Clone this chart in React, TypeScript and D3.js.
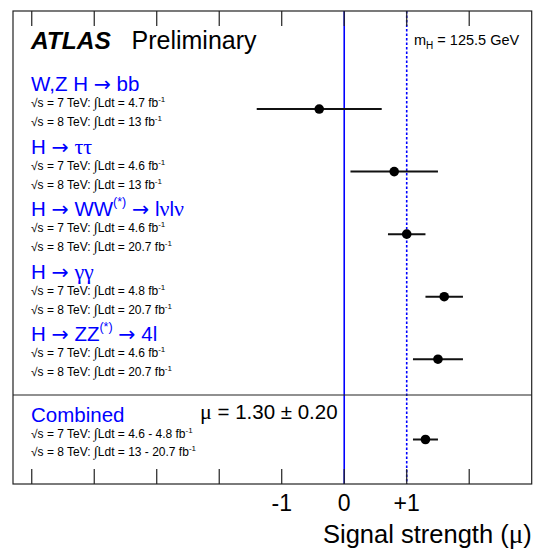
import React from "react";
import * as d3 from "d3";

// Channel results (signal strength mu with symmetric uncertainty)
const channels = ["W,Z H → bb", "H → ττ", "H → WW^{(*)} → lνlν", "H → γγ", "H → ZZ^{(*)} → 4l"];
const muValues = [-0.4, 0.8, 1.0, 1.6, 1.5];
const muErrors = [1.0, 0.7, 0.3, 0.3, 0.4];
const lumi7 = ["4.7", "4.6", "4.6", "4.8", "4.6"];
const lumi8 = ["13", "13", "20.7", "20.7", "20.7"];

const combinedLabel = "Combined";
const combinedMu = 1.3;
const combinedErr = 0.2;
const combinedLumi7 = "4.6 - 4.8";
const combinedLumi8 = "13 - 20.7";

const xTicks = [-5, -4, -3, -2, -1, 0, 1, 2];
const xTickLabels: Record<number, string> = { [-1]: "-1", 0: "0", 1: "+1" };
const xDomain: [number, number] = [-5.3, 3.0];

const W = 538;
const H = 550;
const frame = { left: 13, right: 531.7, top: 11, bottom: 484 };
const divider = 395;
const FONT = "'Liberation Sans', Arial, Helvetica, sans-serif";
const SERIF = "'Liberation Serif', 'Times New Roman', serif";
const ARROW_FONT = "'DejaVu Sans', sans-serif";
const BLUE = "#0000ff";

type Run = { t: string; sup: boolean; font?: string };

// Split "text^{sup}text" into plain/superscript runs, giving arrows and
// Greek letters their own typefaces
function parseRuns(s: string): Run[] {
  const out: Run[] = [];
  const re = /\^\{([^}]*)\}/g;
  let last = 0;
  let m: RegExpExecArray | null;
  const pushPlain = (txt: string) => {
    const parts = txt.split(/(→|[α-ω]+)/);
    parts.forEach((p) => {
      if (!p) return;
      if (p === "→") out.push({ t: p, sup: false, font: ARROW_FONT });
      else if (/^[α-ω]+$/.test(p)) out.push({ t: p, sup: false, font: SERIF });
      else out.push({ t: p, sup: false });
    });
  };
  while ((m = re.exec(s))) {
    if (m.index > last) pushPlain(s.slice(last, m.index));
    out.push({ t: m[1], sup: true });
    last = m.index + m[0].length;
  }
  if (last < s.length) pushPlain(s.slice(last));
  return out;
}

function Heading({ x, y, text }: { x: number; y: number; text: string }) {
  const runs = parseRuns(text);
  return (
    <text x={x} y={y} fontFamily={FONT} fontSize={20.5} fill={BLUE}>
      {runs.map((r, i) => {
        if (r.sup)
          return (
            <tspan key={i} fontSize={12.5} dy={-10}>
              {r.t}
            </tspan>
          );
        const dy = i > 0 && runs[i - 1].sup ? 10 : 0;
        return (
          <tspan key={i} dy={dy} fontFamily={r.font} fontSize={r.font === SERIF ? 22 : undefined}>
            {r.t}
          </tspan>
        );
      })}
    </text>
  );
}

function LumiLine({ x, y, energy, lumi }: { x: number; y: number; energy: string; lumi: string }) {
  return (
    <text x={x} y={y} fontFamily={FONT} fontSize={12} fill="#000">
      {`√s = ${energy} TeV: `}
      <tspan fontFamily={SERIF} fontSize={14}>
        ∫
      </tspan>
      {`Ldt = ${lumi} fb`}
      <tspan fontSize={8} dy={-5}>
        -1
      </tspan>
    </text>
  );
}

export default function App() {
  const x = d3.scaleLinear().domain(xDomain).range([frame.left, frame.right]);
  const y = d3.scaleBand<string>().domain(channels).range([77.75, 390.5]).padding(0);
  const rowY = (c: string) => (y(c) as number) + y.bandwidth() / 2;
  const combinedY = (divider + frame.bottom) / 2;
  const labelX = 31;
  const tickLen = 15;

  const rows = channels.map((c, i) => ({
    label: c,
    mu: muValues[i],
    err: muErrors[i],
    l7: lumi7[i],
    l8: lumi8[i],
    cy: rowY(c),
  }));

  return (
    <div style={{ position: "absolute", left: 0, top: 0 }}>
      <svg width={W} height={H} style={{ display: "block", background: "#fff" }}>
        {/* reference lines at mu = 0 and mu = 1 */}
        <line x1={x(0)} x2={x(0)} y1={frame.top} y2={frame.bottom} stroke={BLUE} strokeWidth={1.6} />
        <line
          x1={x(1)}
          x2={x(1)}
          y1={frame.top}
          y2={frame.bottom}
          stroke={BLUE}
          strokeWidth={1.6}
          strokeDasharray="2.5,2"
        />

        {/* frame */}
        <rect
          x={frame.left}
          y={frame.top}
          width={frame.right - frame.left}
          height={frame.bottom - frame.top}
          fill="none"
          stroke="#222"
          strokeWidth={1.2}
        />
        <line x1={frame.left} x2={frame.right} y1={divider} y2={divider} stroke="#222" strokeWidth={1.2} />

        {/* ticks on top and bottom edges */}
        {xTicks.map((t) => (
          <g key={t}>
            <line x1={x(t)} x2={x(t)} y1={frame.top} y2={frame.top + tickLen} stroke="#222" strokeWidth={1.2} />
            <line
              x1={x(t)}
              x2={x(t)}
              y1={frame.bottom}
              y2={frame.bottom - tickLen}
              stroke="#222"
              strokeWidth={1.2}
            />
            {xTickLabels[t] !== undefined && (
              <text x={x(t)} y={511} textAnchor="middle" fontFamily={FONT} fontSize={23} fill="#000">
                {xTickLabels[t]}
              </text>
            )}
          </g>
        ))}

        <text x={frame.right} y={543} textAnchor="end" fontFamily={FONT} fontSize={25.5} fill="#000">
          Signal strength (<tspan fontFamily={SERIF} fontSize={27}>μ</tspan>)
        </text>

        {/* title */}
        <text x={31} y={49} fontFamily={FONT} fontSize={24.5} fontWeight="bold" fontStyle="italic" fill="#000">
          ATLAS
        </text>
        <text x={131.5} y={49} fontFamily={FONT} fontSize={25} fill="#000">
          Preliminary
        </text>
        <text x={414} y={45} fontFamily={FONT} fontSize={14.5} fill="#000">
          m
          <tspan fontSize={10} dy={4}>
            H
          </tspan>
          <tspan dy={-4}> = 125.5 GeV</tspan>
        </text>

        {/* channel rows */}
        {rows.map((r) => (
          <g key={r.label}>
            <Heading x={labelX} y={r.cy - 18} text={r.label} />
            <LumiLine x={labelX} y={r.cy - 2} energy="7" lumi={r.l7} />
            <LumiLine x={labelX} y={r.cy + 17} energy="8" lumi={r.l8} />
            <line x1={x(r.mu - r.err)} x2={x(r.mu + r.err)} y1={r.cy} y2={r.cy} stroke="#111" strokeWidth={2} />
            <circle cx={x(r.mu)} cy={r.cy} r={4.8} fill="#000" />
          </g>
        ))}

        {/* combined result */}
        <Heading x={labelX} y={combinedY - 18} text={combinedLabel} />
        <LumiLine x={labelX} y={combinedY - 2} energy="7" lumi={combinedLumi7} />
        <LumiLine x={labelX} y={combinedY + 16} energy="8" lumi={combinedLumi8} />
        <text x={200} y={419} fontFamily={FONT} fontSize={20.5} fill="#000">
          <tspan fontFamily={SERIF} fontSize={22}>
            μ
          </tspan>
          {` = ${combinedMu.toFixed(2)} ± ${combinedErr.toFixed(2)}`}
        </text>
        <line
          x1={x(combinedMu - combinedErr)}
          x2={x(combinedMu + combinedErr)}
          y1={combinedY}
          y2={combinedY}
          stroke="#111"
          strokeWidth={2}
        />
        <circle cx={x(combinedMu)} cy={combinedY} r={4.8} fill="#000" />
      </svg>
    </div>
  );
}
